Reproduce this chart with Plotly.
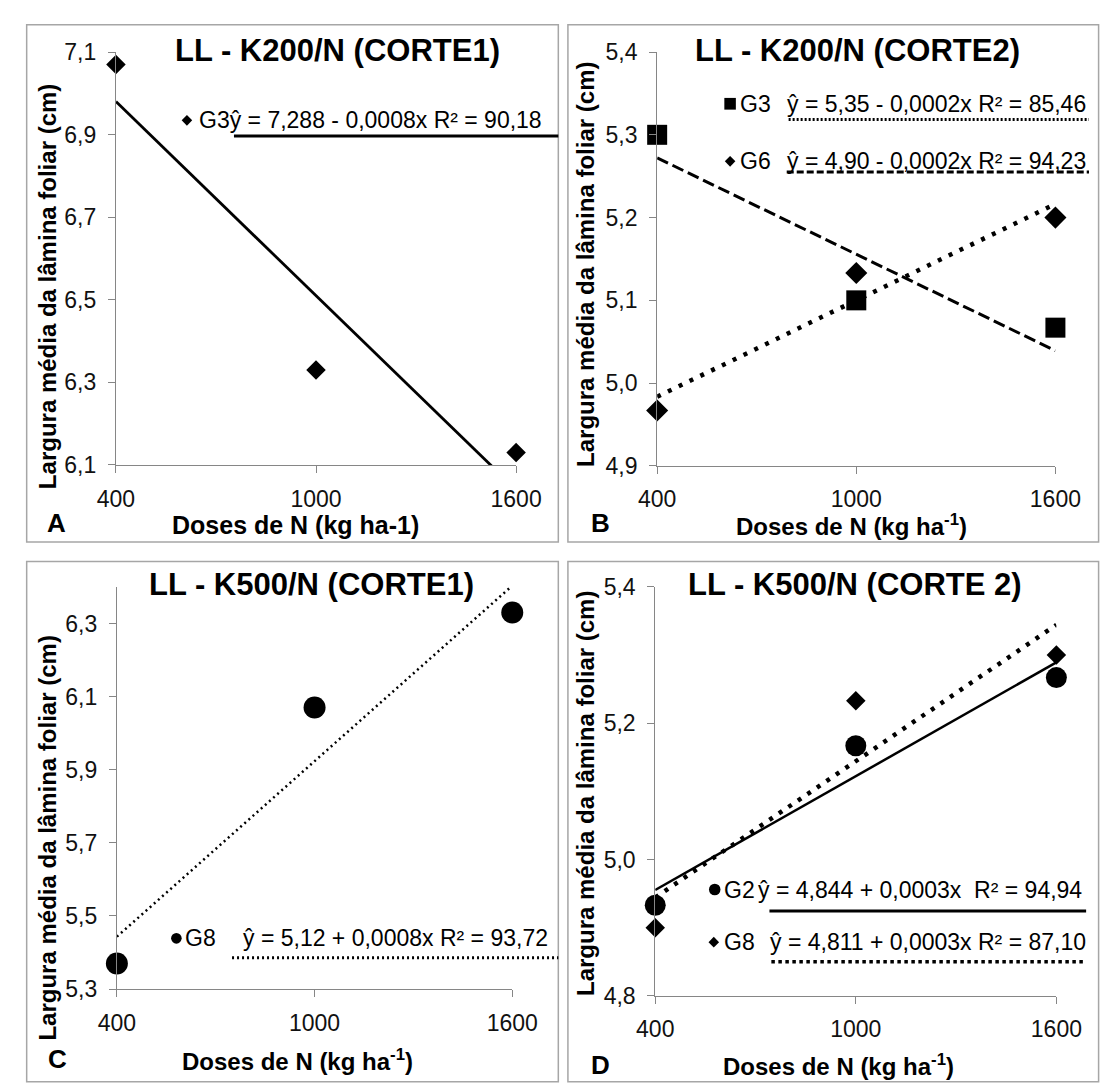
import numpy as np
import plotly.graph_objects as go

# ---------------- data ----------------
doses = [400, 1000, 1600]
dose_labels = ["400", "1000", "1600"]

a_g3 = [7.07, 6.33, 6.13]
b_g3 = [5.30, 5.10, 5.067]
b_g6 = [4.967, 5.133, 5.20]
c_g8 = [5.37, 6.07, 6.33]
d_g2 = [4.933, 5.167, 5.267]
d_g8 = [4.90, 5.233, 5.30]

a_yticks = [6.1, 6.3, 6.5, 6.7, 6.9, 7.1]
b_yticks = [4.9, 5.0, 5.1, 5.2, 5.3, 5.4]
c_yticks = [5.3, 5.5, 5.7, 5.9, 6.1, 6.3]
d_yticks = [4.8, 5.0, 5.2, 5.4]

a_yrange = [6.1, 7.1]
b_yrange = [4.9, 5.4]
c_yrange = [5.3, 6.4]
d_yrange = [4.8, 5.4]

titles = ["LL - K200/N (CORTE1)", "LL - K200/N (CORTE2)",
          "LL - K500/N (CORTE1)", "LL - K500/N (CORTE 2)"]
letters = ["A", "B", "C", "D"]
x_titles = ["Doses de N (kg ha-1)", "Doses de N (kg ha<sup>-1</sup>)",
            "Doses de N (kg ha<sup>-1</sup>)", "Doses de N (kg ha<sup>-1</sup>)"]
y_title = "Largura média da lâmina foliar (cm)"

eq_a_g3 = "ŷ = 7,288 - 0,0008x R² = 90,18"
eq_b_g3 = "ŷ = 5,35 - 0,0002x R² = 85,46"
eq_b_g6 = "ŷ = 4,90 - 0,0002x R² = 94,23"
eq_c_g8 = "ŷ = 5,12 + 0,0008x R² = 93,72"
eq_d_g2 = "ŷ = 4,844 + 0,0003x  R² = 94,94"
eq_d_g8 = "ŷ = 4,811 + 0,0003x R² = 87,10"

# ---------------- layout helpers ----------------
W, H = 1115, 1086
FONT = "Liberation Sans, Arial, sans-serif"
AX = "#868686"
BORDER = "#a6a6a6"


def X(px):
    return px / W


def Y(py):
    return 1 - py / H


def fmt(v):
    return f"{v:.1f}".replace(".", ",")


fig = go.Figure()

# plot areas in pixels: (x0, x1, ytop, ybottom)
areas = {
    1: (101, 518, 40, 463),
    2: (665, 1080, 40, 464),
    3: (102, 514, 588, 1000),
    4: (663, 1081, 588, 1007),
}
yticks = {1: a_yticks, 2: b_yticks, 3: c_yticks, 4: d_yticks}
yranges = {1: a_yrange, 2: b_yrange, 3: c_yrange, 4: d_yrange}

for i, (x0, x1, yt, yb) in areas.items():
    sfx = "" if i == 1 else str(i)
    fig.layout["xaxis" + sfx] = dict(
        domain=[X(x0), X(x1)], range=[doses[0], doses[-1]], anchor="y" + sfx,
        tickvals=doses, ticktext=dose_labels, showline=True, linecolor=AX,
        linewidth=1, ticks="outside", ticklen=7, tickcolor=AX, showgrid=False,
        zeroline=False, tickfont=dict(family=FONT, size=23, color="#111"),
        ticklabelstandoff=6, fixedrange=True)
    fig.layout["yaxis" + sfx] = dict(
        domain=[Y(yb), Y(yt)], range=yranges[i], anchor="x" + sfx,
        tickvals=yticks[i], ticktext=[fmt(v) for v in yticks[i]], showline=True,
        linecolor=AX, linewidth=1, ticks="outside", ticklen=7, tickcolor=AX,
        showgrid=False, zeroline=False,
        tickfont=dict(family=FONT, size=23, color="#111"),
        ticklabelstandoff=7, fixedrange=True)


def trend(vals):
    k, b = np.polyfit(doses, vals, 1)
    xs = np.array([doses[0], doses[-1]], dtype=float)
    return xs, k * xs + b


def add_series(vals, ax, symbol, size, dash, width):
    xs, ys = trend(vals)
    fig.add_trace(go.Scatter(x=xs, y=ys, mode="lines", xaxis="x" + ax, yaxis="y" + ax,
                             line=dict(color="black", width=width, dash=dash),
                             showlegend=False, hoverinfo="skip"))
    fig.add_trace(go.Scatter(x=doses, y=vals, mode="markers", xaxis="x" + ax, yaxis="y" + ax,
                             marker=dict(symbol=symbol, size=size, color="black"),
                             cliponaxis=False, showlegend=False))


add_series(a_g3, "", "diamond", 15, "solid", 2.8)
add_series(b_g3, "2", "square", 20, "12px,5px", 3)
add_series(b_g6, "2", "diamond", 17, "4px,8px", 4.5)
add_series(c_g8, "3", "circle", 22, "2px,3.5px", 2.5)
add_series(d_g2, "4", "circle", 21, "solid", 2.5)
add_series(d_g8, "4", "diamond", 15, "4px,7.5px", 4.5)

shapes = []
annotations = []


def ann(text, px, py, size, bold=False, xanchor="center", angle=0):
    t = f"<b>{text}</b>" if bold else text
    annotations.append(dict(text=t, x=X(px), y=Y(py), xref="paper", yref="paper",
                            xanchor=xanchor, yanchor="middle", showarrow=False,
                            textangle=angle, font=dict(family=FONT, size=size, color="black")))


def hline(px0, px1, py, width, dash="solid"):
    shapes.append(dict(type="line", xref="paper", yref="paper", x0=X(px0), x1=X(px1),
                       y0=Y(py), y1=Y(py), line=dict(color="black", width=width, dash=dash)))


def sym(kind, cx, cy, r):
    dx, dy = r / W, r / H
    if kind == "diamond":
        path = (f"M {X(cx)-dx},{Y(cy)} L {X(cx)},{Y(cy)+dy} L {X(cx)+dx},{Y(cy)} "
                f"L {X(cx)},{Y(cy)-dy} Z")
        shapes.append(dict(type="path", xref="paper", yref="paper", path=path,
                           fillcolor="black", line=dict(width=0)))
    else:
        shapes.append(dict(type="rect" if kind == "square" else "circle",
                           xref="paper", yref="paper",
                           x0=X(cx) - dx, x1=X(cx) + dx, y0=Y(cy) - dy, y1=Y(cy) + dy,
                           fillcolor="black", line=dict(width=0)))


# panel borders
for (bx0, by0, bx1, by1) in [(8, 12, 562, 542), (572, 12, 1125, 542),
                             (8, 562, 562, 1095), (572, 562, 1125, 1095)]:
    shapes.append(dict(type="rect", xref="paper", yref="paper", x0=X(bx0), x1=X(bx1),
                       y0=Y(by1), y1=Y(by0), line=dict(color=BORDER, width=1.5)))

# titles
for t, (cx, cy) in zip(titles, [(332, 38), (874, 38), (305, 586), (871, 586)]):
    ann(t, cx, cy, 31, bold=True)

# panel letters
for t, (cx, cy) in zip(letters, [(39, 523), (606, 523), (40, 1072), (606, 1078)]):
    ann(t, cx, cy, 26, bold=True)

# x titles
for t, (cx, cy), s in zip(x_titles, [(288, 525), (867, 525), (290, 1073), (854, 1078)],
                          [25, 24, 24, 24]):
    ann(t, cx, cy, s, bold=True)

# y titles
for (cx, cy) in [(29, 280), (591, 258), (30, 845), (591, 800)]:
    ann(y_title, cx, cy, 24, bold=True, angle=-90)

# legends
# A
sym("diamond", 175, 110, 5.5)
ann("G3" + eq_a_g3, 185, 110, 23, xanchor="left")
hline(224, 562, 126, 3)
# B
sym("square", 741, 93, 6)
ann("G3", 749, 93, 23, xanchor="left")
ann(eq_b_g3, 798, 93, 23, xanchor="left")
hline(802, 1115, 109, 3, "2px,2px")
sym("diamond", 741, 152, 5.5)
ann("G6", 749, 152, 23, xanchor="left")
ann(eq_b_g6, 798, 152, 23, xanchor="left")
hline(800, 1115, 163, 3, "7px,3px")
# C
sym("circle", 164, 948, 5.5)
ann("G8", 171, 948, 23, xanchor="left")
ann(eq_c_g8, 231, 948, 23, xanchor="left")
hline(222, 562, 968, 3, "2px,3px")
# D
sym("circle", 725, 898, 6)
ann("G2", 733, 898, 23, xanchor="left")
ann(eq_d_g2, 768, 898, 23, xanchor="left")
hline(782, 1112, 920, 3)
sym("diamond", 724, 952, 5.5)
ann("G8", 733, 952, 23, xanchor="left")
ann(eq_d_g8, 780, 952, 23, xanchor="left")
hline(784, 1112, 972, 3.5, "3.5px,3.5px")

fig.update_layout(width=W, height=H, margin=dict(l=0, r=0, t=0, b=0),
                  paper_bgcolor="white", plot_bgcolor="white",
                  shapes=shapes, annotations=annotations, showlegend=False,
                  font=dict(family=FONT, color="black"))

fig.write_html("out.html", config={"displayModeBar": False},
               post_script="document.body.style.margin='0';"
                           "document.body.style.overflow='hidden';"
                           "document.documentElement.style.overflow='hidden';")
